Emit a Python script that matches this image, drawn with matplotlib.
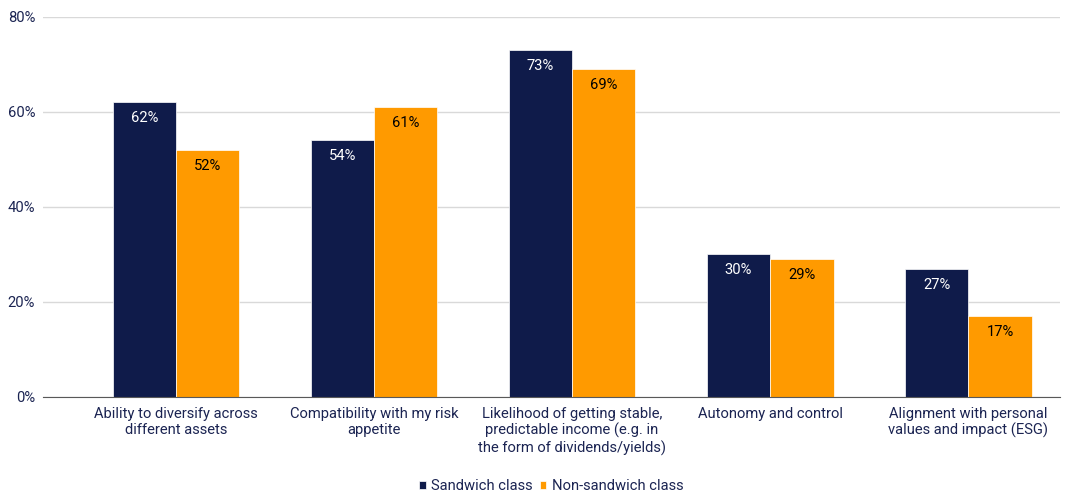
import numpy as np
import matplotlib.pyplot as plt

plt.rcParams['font.family'] = ['Roboto', 'DejaVu Sans']

categories = [
    "Ability to diversify across\ndifferent assets",
    "Compatibility with my risk\nappetite",
    "Likelihood of getting stable,\npredictable income (e.g. in\nthe form of dividends/yields)",
    "Autonomy and control",
    "Alignment with personal\nvalues and impact (ESG)",
]
sandwich = [62, 54, 73, 30, 27]
non_sandwich = [52, 61, 69, 29, 17]
yticks = [0, 20, 40, 60, 80]

navy = "#0F1B4A"
orange = "#FF9A00"
text_col = "#1B2452"
fs = 10.6

fig = plt.figure(figsize=(10.7, 4.93), dpi=100)
ax = fig.add_axes([0.040, 0.195, 0.951, 0.771])

x = np.arange(len(categories))
w = 0.32
b1 = ax.bar(x - w / 2, sandwich, w, color=navy, label="Sandwich class", zorder=3,
            edgecolor="white", linewidth=0.5)
b2 = ax.bar(x + w / 2, non_sandwich, w, color=orange, label="Non-sandwich class", zorder=3,
            edgecolor="white", linewidth=0.5)

for bars, vals, c in [(b1, sandwich, "white"), (b2, non_sandwich, "black")]:
    for r, v in zip(bars, vals):
        ax.annotate(f"{v}%", (r.get_x() + r.get_width() / 2, v), xytext=(0, -11.5),
                    textcoords="offset points", ha="center", va="center",
                    fontsize=fs, color=c, zorder=4)

ax.set_xlim(-0.672, 4.465)
ax.set_ylim(0, 80)
ax.set_yticks(yticks)
ax.set_yticklabels([f"{t}%" for t in yticks])
ax.set_xticks(x)
ax.set_xticklabels(categories)
ax.tick_params(axis="both", length=0, labelsize=fs, colors=text_col)
ax.tick_params(axis="y", pad=5.5)
ax.tick_params(axis="x", pad=7)
ax.grid(axis="y", color="#D9D9D9", linewidth=1, zorder=0)
for s in ["top", "right", "left"]:
    ax.spines[s].set_visible(False)
ax.spines["bottom"].set_color("#595959")
ax.spines["bottom"].set_zorder(5)

leg = fig.legend(loc="lower center", bbox_to_anchor=(0.515, -0.027), ncol=2, frameon=False,
                 fontsize=fs, handlelength=0.45, handleheight=0.45, handletextpad=0.35,
                 columnspacing=0.5, labelcolor=text_col)

fig.savefig("out.png", dpi=100)
